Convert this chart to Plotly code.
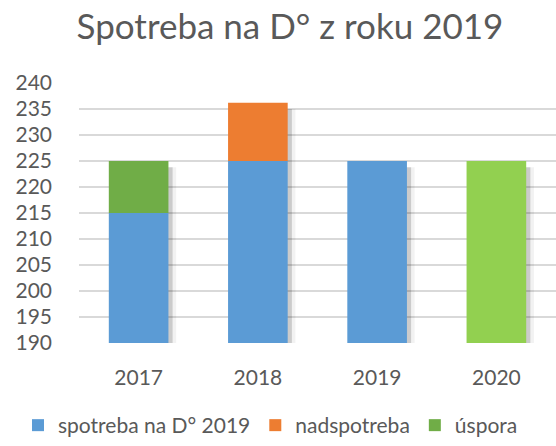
import plotly.graph_objects as go

years = ["2017", "2018", "2019", "2020"]
spotreba = [215, 225, 225, 225]
nadspotreba = [0, 11.2, 0, 0]
uspora = [10, 0, 0, 0]
spotreba_colors = ["#5B9BD5", "#5B9BD5", "#5B9BD5", "#92D050"]
y_ticks = list(range(190, 241, 5))

FONT = "Lato"
GREY = "#595959"
W = 0.5

totals = [s + n + u for s, n, u in zip(spotreba, nadspotreba, uspora)]
stack_base = spotreba

fig = go.Figure()
# soft shadows
fig.add_trace(go.Bar(x=years, y=[t - 1.2 for t in totals], width=W, offset=-W / 2 + 0.065,
                     marker=dict(color="rgba(0,0,0,0.05)", line_width=0), showlegend=False, hoverinfo="skip"))
fig.add_trace(go.Bar(x=years, y=[t - 1.2 for t in totals], width=W, offset=-W / 2 + 0.035,
                     marker=dict(color="rgba(0,0,0,0.16)", line_width=0), showlegend=False, hoverinfo="skip"))

fig.add_trace(go.Bar(x=years, y=spotreba, name="spotreba na D° 2019", width=W, offset=-W / 2,
                     marker=dict(color=spotreba_colors, line_width=0)))
fig.add_trace(go.Bar(x=years, y=nadspotreba, base=stack_base, name="nadspotreba", width=W, offset=-W / 2,
                     marker=dict(color="#ED7D31", line_width=0)))
fig.add_trace(go.Bar(x=years, y=uspora, base=stack_base, name="úspora", width=W, offset=-W / 2,
                     marker=dict(color="#70AD47", line_width=0)))

plot_l, plot_w, plot_b, plot_h = 79, 477, 343, 260
fig.update_layout(
    width=556, height=446,
    barmode="overlay",
    margin=dict(l=plot_l, r=0, t=83, b=103),
    paper_bgcolor="white", plot_bgcolor="white",
    font=dict(family=FONT, color=GREY, size=21),
    title=dict(text="Spotreba na D° z roku 2019", x=290 / 556, xanchor="center",
               y=1 - 27 / 446, yanchor="middle", yref="container",
               font=dict(family=FONT, size=35, color=GREY)),
    legend=dict(orientation="h", xref="paper", x=(18 - plot_l) / plot_w, xanchor="left",
                yref="paper", y=(plot_b - 446) / plot_h, yanchor="bottom",
                font=dict(size=21, color=GREY), traceorder="normal",
                itemwidth=30, tracegroupgap=0),
    xaxis=dict(type="category", categoryorder="array", categoryarray=years,
               showgrid=False, showline=False, ticks="", ticklabelstandoff=20,
               tickfont=dict(size=21, color=GREY), range=[-0.5, 3.5]),
    yaxis=dict(range=[190, 240], tickvals=y_ticks, showgrid=True, gridcolor="#D9D9D9",
               gridwidth=1.5, zeroline=False, showline=False, ticks="",
               ticklabelstandoff=26, tickfont=dict(size=21, color=GREY)),
    showlegend=True,
)
fig.write_html("out.html")
